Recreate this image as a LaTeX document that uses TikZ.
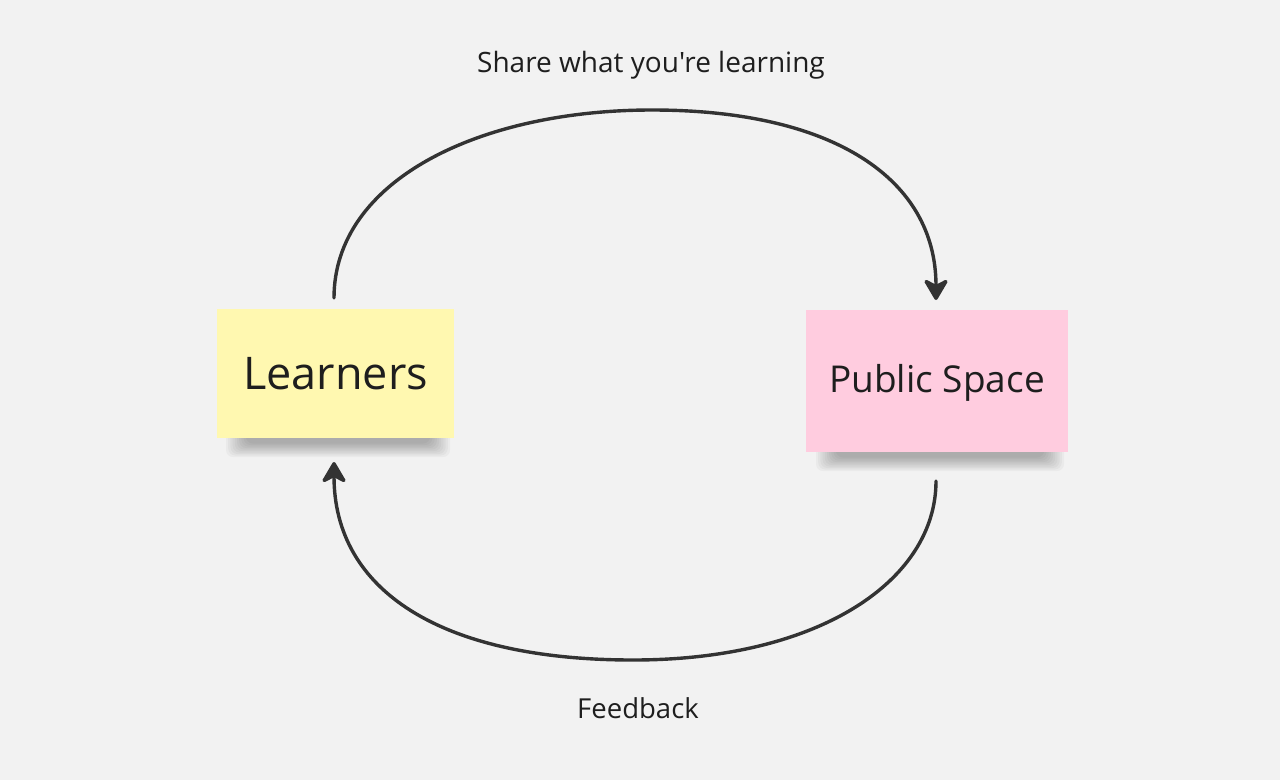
\documentclass[tikz,border=0pt]{standalone}
\usepackage{fontspec}
\setmainfont{Open Sans}[Ligatures=TeXOff]
\usetikzlibrary{arrows.meta}
\definecolor{bg}{HTML}{F2F2F2}
\definecolor{noteyellow}{HTML}{FFF8B0}
\definecolor{notepink}{HTML}{FFCCDF}
\definecolor{ink}{HTML}{333333}
\definecolor{txt}{HTML}{1E1E1E}
\tikzset{
  sticky/.style={draw=none, minimum width=#1, inner sep=0pt, text=txt},
  shade layer/.style={fill=black, opacity=0.03, rounded corners=7pt},
  flow/.style={draw=ink, line width=3.4pt, line cap=round,
    -{Stealth[length=24pt,width=28pt,inset=7pt,round]}},
  lbl/.style={text=txt}
}
\begin{document}
\begin{tikzpicture}[x=1pt,y=-1pt]
\fill[bg] (0,0) rectangle (1280,780);
\useasboundingbox (0,0) rectangle (1280,780);
% soft shadows under the notes
\foreach \i in {0,...,9}{
  \fill[shade layer] (226+2.2*\i,428) rectangle (450-2.2*\i,457-1.5*\i);
  \fill[shade layer] (816+2.2*\i,442) rectangle (1064-2.2*\i,471-1.5*\i);
}
\node[sticky=237pt, minimum height=129pt, fill=noteyellow, font=\fontsize{45}{50}\selectfont] (learn) at (335.5,373.5) {Learners};
\node[sticky=262pt, minimum height=142pt, fill=notepink, text height=32pt, text depth=9pt, font=\fontsize{37}{44}\selectfont] (pub) at (937,381) {Public Space};
\coordinate (s1) at (334,298);
\coordinate (t1) at (936,300);
\coordinate (s2) at (936,481);
\coordinate (t2) at (334,462);
\draw[flow] (s1) .. controls (334,180) and (480,110) .. (652,110) .. controls (835,110) and (936,180) .. (t1);
\draw[flow] (s2) .. controls (936,580) and (820,660) .. (633,660) .. controls (440,660) and (334,590) .. (t2);
\node[lbl, font=\fontsize{28}{32}\selectfont] (top) at (651,65) {Share what you're learning};
\node[lbl, font=\fontsize{27.5}{32}\selectfont] (fb) at (638,708) {Feedback};
\end{tikzpicture}
\end{document}
